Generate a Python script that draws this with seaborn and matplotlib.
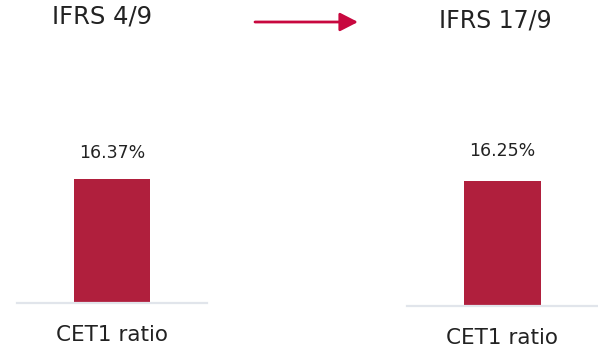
import matplotlib
matplotlib.use("Agg")
import matplotlib.pyplot as plt
import seaborn as sns
import pandas as pd

# Values
panel_titles = ["IFRS 4/9", "IFRS 17/9"]
category = ["CET1 ratio"]
cet1_ifrs4 = [16.37]
cet1_ifrs17 = [16.25]
value_labels = ["16.37%", "16.25%"]

sns.set_theme(style="white")
plt.rcParams["font.family"] = ["DejaVu Sans"]

W, H = 598, 347
fig = plt.figure(figsize=(W / 100, H / 100), dpi=100)

BAR_COLOR = "#B01F3D"
BASE_COLOR = "#E1E5EB"
TEXT_COLOR = "#222222"


def px_axes(x0, x1, base_y, top_y):
    return fig.add_axes([x0 / W, (H - base_y) / H, (x1 - x0) / W, (base_y - top_y) / H])


panels = [
    dict(vals=cet1_ifrs4, x0=17, x1=207, base=303, ymax=26.4, label=value_labels[0], off=19, pad=16),
    dict(vals=cet1_ifrs17, x0=407, x1=598, base=306, ymax=26.0, label=value_labels[1], off=21.5, pad=15.5),
]

for p in panels:
    ax = px_axes(p["x0"], p["x1"], p["base"], p["base"] - 200)
    df = pd.DataFrame({"metric": category, "value": p["vals"]})
    sns.barplot(data=df, x="metric", y="value", color=BAR_COLOR, width=0.4,
                saturation=1, ax=ax, edgecolor="none")
    ax.set_xlim(-0.5, 0.5)
    ax.set_ylim(0, p["ymax"])
    ax.set_xlabel("")
    ax.set_ylabel("")
    ax.set_yticks([])
    for s in ["top", "left", "right"]:
        ax.spines[s].set_visible(False)
    ax.spines["bottom"].set_color(BASE_COLOR)
    ax.spines["bottom"].set_linewidth(1.6)
    ax.tick_params(axis="x", length=0, pad=p["pad"], labelsize=15.5, labelcolor=TEXT_COLOR)
    ax.patch.set_alpha(0)
    for bar in ax.patches:
        ax.annotate(p["label"], (bar.get_x() + bar.get_width() / 2, bar.get_height()),
                    xytext=(0, p["off"]), textcoords="offset points",
                    ha="center", va="center", fontsize=12.5, color=TEXT_COLOR)

# Panel headings and the arrow between them
fig.text(102 / W, 1 - 16 / H, panel_titles[0], ha="center", va="center",
         fontsize=17.5, color=TEXT_COLOR)
fig.text(495 / W, 1 - 20 / H, panel_titles[1], ha="center", va="center",
         fontsize=17, color=TEXT_COLOR)
fig.add_artist(matplotlib.patches.FancyArrowPatch(
    (255 / W, 1 - 22 / H), (358 / W, 1 - 22 / H), transform=fig.transFigure,
    arrowstyle="-|>,head_length=0.78,head_width=0.4", mutation_scale=14,
    color="#C8083F", linewidth=2, shrinkA=0, shrinkB=0))

fig.savefig("out.png", dpi=100, facecolor="white")
